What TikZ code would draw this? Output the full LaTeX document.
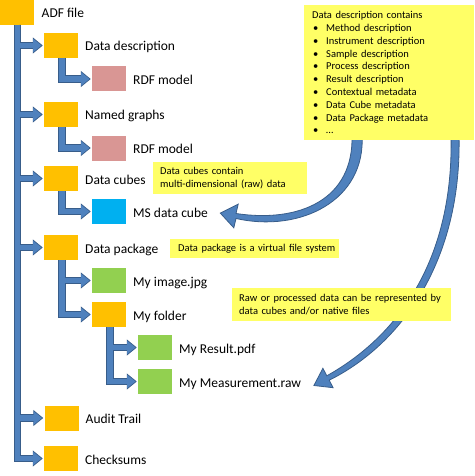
\documentclass[tikz,border=0pt]{standalone}
\usepackage{fontspec}
\setmainfont{Carlito}
\usetikzlibrary{arrows.meta}
\definecolor{orangebox}{HTML}{FFC000}
\definecolor{pinkbox}{HTML}{D99694}
\definecolor{bluebox}{HTML}{00B0F0}
\definecolor{greenbox}{HTML}{92D050}
\definecolor{noteyellow}{HTML}{FFFF66}
\definecolor{fillblue}{HTML}{4F81BD}
\definecolor{edgeblue}{HTML}{385D8A}
\begin{document}
\begin{tikzpicture}[x=1pt,y=-1pt,
  box/.style={minimum width=34pt, minimum height=25pt, inner sep=0pt, outer sep=0pt},
  lbl/.style={anchor=base west, font=\fontsize{13.5}{16}\selectfont, inner sep=0pt},
  note/.style={fill=noteyellow, anchor=north west, align=left, inner xsep=7pt, inner ysep=0pt, font=\fontsize{10.5}{13}\selectfont},
  connout/.style={line width=7.5pt, draw=edgeblue, -{Triangle[length=10pt,width=15.5pt]}, shorten >=1.2pt},
  connin/.style={line width=5.5pt, draw=fillblue, -{Triangle[length=8.5pt,width=13pt]}, shorten >=2.5pt},
  bigarrow/.style={fill=fillblue, draw=edgeblue, line width=0.8pt, line join=miter}]
\useasboundingbox (0,0) rectangle (474,476);
\fill[white] (0,0) rectangle (474,476);

% boxes
\node[box, fill=orangebox] (adf)    at (16.5,12.5) {};
\node[box, fill=orangebox] (ddesc)  at (61,45.5) {};
\node[box, fill=pinkbox]   (rdf1)   at (109,79) {};
\node[box, fill=orangebox] (named)  at (61,114.5) {};
\node[box, fill=pinkbox]   (rdf2)   at (109,148) {};
\node[box, fill=orangebox] (cubes)  at (61,178.5) {};
\node[box, fill=bluebox]   (ms)     at (109,211.5) {};
\node[box, fill=orangebox] (pkg)    at (61,247.5) {};
\node[box, fill=greenbox]  (img)    at (109,280.5) {};
\node[box, fill=orangebox] (folder) at (109,314.5) {};
\node[box, fill=greenbox]  (result) at (155,347.5) {};
\node[box, fill=greenbox]  (meas)   at (155,381.5) {};
\node[box, fill=orangebox] (audit)  at (61.5,418) {};
\node[box, fill=orangebox] (checks) at (61,458.5) {};

% labels
\node[lbl] (ladf)    at ([xshift=8pt,yshift=-5.5pt]adf.east) {ADF file};
\node[lbl] (lddesc)  at ([xshift=7pt,yshift=-5.5pt]ddesc.east) {Data description};
\node[lbl] (lrdf1)   at ([xshift=7pt,yshift=-5.5pt]rdf1.east) {RDF model};
\node[lbl] (lnamed)  at ([xshift=7pt,yshift=-5.5pt]named.east) {Named graphs};
\node[lbl] (lrdf2)   at ([xshift=7pt,yshift=-5.5pt]rdf2.east) {RDF model};
\node[lbl] (lcubes)  at ([xshift=7pt,yshift=-5.5pt]cubes.east) {Data cubes};
\node[lbl] (lms)     at ([xshift=7pt,yshift=-5.5pt]ms.east) {MS data cube};
\node[lbl] (lpkg)    at ([xshift=7pt,yshift=-5.5pt]pkg.east) {Data package};
\node[lbl] (limg)    at ([xshift=7pt,yshift=-5.5pt]img.east) {My image.jpg};
\node[lbl] (lfolder) at ([xshift=7pt,yshift=-5.5pt]folder.east) {My folder};
\node[lbl] (lresult) at ([xshift=7pt,yshift=-5.5pt]result.east) {My Result.pdf};
\node[lbl] (lmeas)   at ([xshift=7pt,yshift=-5.5pt]meas.east) {My Measurement.raw};
\node[lbl] (laudit)  at ([xshift=7pt,yshift=-5.5pt]audit.east) {Audit Trail};
\node[lbl] (lchecks) at ([xshift=7pt,yshift=-5.5pt]checks.east) {Checksums};

% elbow connectors: outline pass, then fill pass
\foreach \s in {connout, connin}{
  \foreach \a/\b in {adf/ddesc, adf/named, adf/cubes, adf/pkg, adf/audit, adf/checks,
                     ddesc/rdf1, named/rdf2, cubes/ms, pkg/img, pkg/folder,
                     folder/result, folder/meas}{
    \draw[\s] ([xshift=1pt]\a.south) |- (\b.west);
  }
}

% curved block arrows (drawn before the callouts)
\filldraw[bigarrow] (352,135) .. controls (354,200) and (299,223) .. (236,213.5)
  -- (238.2,204.2) -- (220.3,213.1) -- (233.8,227.8) -- (236,218.5)
  .. controls (301,233) and (366,200) .. (362,135) -- cycle;
\filldraw[bigarrow] (451,135) .. controls (454,260) and (398,336) .. (326.8,375.8)
  -- (322.9,368.3) -- (313.9,385.5) -- (333.1,387.7) -- (329.2,380.2)
  .. controls (402,344) and (462,260) .. (459,135) -- cycle;

% callouts
\node[note, minimum width=170pt, minimum height=135pt, text width=154pt, inner xsep=8pt,
      font=\fontsize{10.5}{12.8}\selectfont] (cdesc) at (304,5)
  {Data description contains\\
   \hspace*{1pt}\makebox[13pt][l]{•}Method description\\
   \hspace*{1pt}\makebox[13pt][l]{•}Instrument description\\
   \hspace*{1pt}\makebox[13pt][l]{•}Sample description\\
   \hspace*{1pt}\makebox[13pt][l]{•}Process description\\
   \hspace*{1pt}\makebox[13pt][l]{•}Result description\\
   \hspace*{1pt}\makebox[13pt][l]{•}Contextual metadata\\
   \hspace*{1pt}\makebox[13pt][l]{•}Data Cube metadata\\
   \hspace*{1pt}\makebox[13pt][l]{•}Data Package metadata\\
   \hspace*{1pt}\makebox[13pt][l]{•}…};
\node[note, minimum width=154pt, minimum height=32pt, text width=140pt] (ccubes) at (153,162)
  {Data cubes contain\\multi-dimensional (raw) data};
\node[note, minimum width=169pt, minimum height=19pt, text width=153pt, inner xsep=8pt] (cpkg) at (170,239)
  {\mbox{Data package is a virtual file system}};
\node[note, minimum width=219pt, minimum height=33pt, text width=205pt] (craw) at (232,288)
  {\mbox{Raw or processed data can be represented by}\\\mbox{data cubes and/or native files}};
\end{tikzpicture}
\end{document}
